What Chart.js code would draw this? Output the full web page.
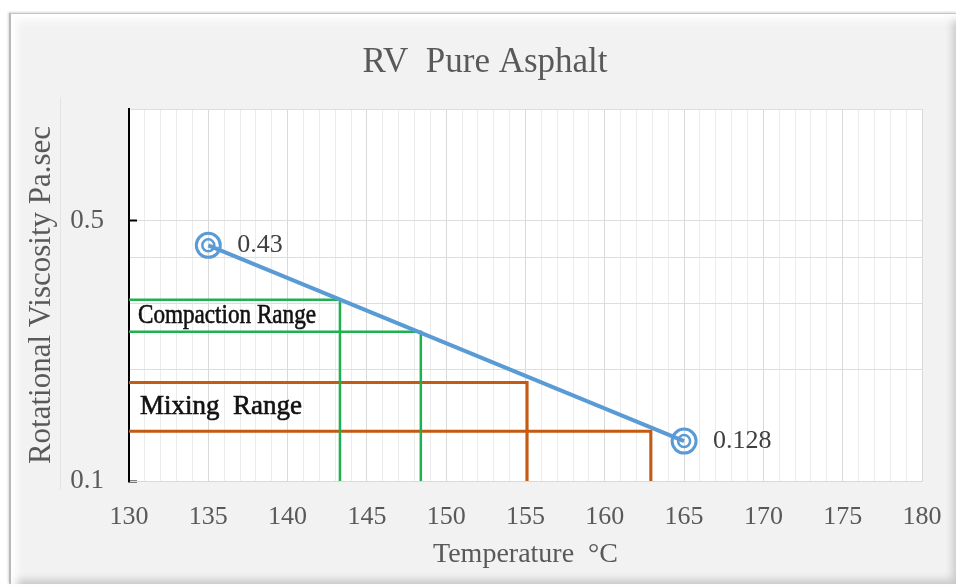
<!DOCTYPE html>
<html>
<head>
<meta charset="utf-8">
<title>RV Pure Asphalt</title>
<script src="https://cdn.jsdelivr.net/npm/chart.js@4.4.1/dist/chart.umd.min.js"></script>
<style>
  html, body { margin: 0; padding: 0; background: #fff; }
  #wrap { position: relative; width: 956px; height: 585px; overflow: hidden; }
  /* bevelled panel behind the chart */
  .panel {
    position: absolute; left: 9px; top: 13px; width: 946px; height: 570px;
    background: #f3f2f2;
    border-left: 2px solid #b9b9b9; border-top: 1px solid #c4c4c4;
    box-shadow: inset 8px 8px 8px -2px #fff, inset -6px -6px 8px -2px rgba(0,0,0,0.18), -1px -1px 2px rgba(0,0,0,0.15);
  }
  .guide { position: absolute; left: 60px; top: 97px; width: 1px; height: 393px; background: #e3e3e3; }
  canvas { position: absolute; left: 0; top: 0; }
</style>
</head>
<body>
<div id="wrap">
  <div class="panel"></div>
  <div class="guide"></div>
  <canvas id="rvChart" width="956" height="585"></canvas>
</div>
<script>
// --- data ---
const temps = [135, 165];            // °C
const viscosity = [0.43, 0.128];     // Pa.sec
const compactionTemps = [143.3, 148.4];
const compactionVisc = [0.307, 0.252];
const mixingTemps = [155.1, 162.9];
const mixingVisc = [0.184, 0.136];

const xMin = 130, xMax = 180, xStep = 1, xLabelStep = 5;
const yMin = 0.1, yMax = 1;
const yTicks = [0.1, 0.2, 0.3, 0.4, 0.5, 1];
const yLabels = [0.1, 0.5];

const SERIF = "'Liberation Serif', 'Times New Roman', serif";
const BLUE = '#5b9bd5';
const GREEN = '#1fb14f';
const ORANGE = '#c55a11';

Chart.defaults.font.family = SERIF;
Chart.defaults.color = '#595959';

// L-shaped range guide lines: from the axis to the curve, then down to the bottom
function rangeLines(ts, vs) {
  return ts.map((t, i) => [{ x: xMin, y: vs[i] }, { x: t, y: vs[i] }, { x: t, y: yMin }]);
}

const mainPts = temps.map((t, i) => ({ x: t, y: viscosity[i] }));

const datasets = [
  {
    data: mainPts, showLine: true, borderColor: BLUE, borderWidth: 4,
    pointRadius: 12, pointBorderWidth: 3, pointBorderColor: BLUE,
    pointBackgroundColor: 'rgba(0,0,0,0)', pointHoverRadius: 12
  },
  {
    data: mainPts, showLine: false, pointRadius: 6, pointBorderWidth: 2.5,
    pointBorderColor: BLUE, pointBackgroundColor: 'rgba(0,0,0,0)'
  }
];
rangeLines(compactionTemps, compactionVisc).forEach(d => datasets.push({
  data: d, showLine: true, borderColor: GREEN, borderWidth: 2.5, pointRadius: 0, tension: 0
}));
rangeLines(mixingTemps, mixingVisc).forEach(d => datasets.push({
  data: d, showLine: true, borderColor: ORANGE, borderWidth: 3, pointRadius: 0, tension: 0
}));

const plotBg = {
  id: 'plotBg',
  beforeDraw(chart) {
    const { ctx, chartArea: a } = chart;
    ctx.save();
    ctx.fillStyle = '#fff';
    ctx.fillRect(a.left, a.top, a.right - a.left, a.bottom - a.top);
    ctx.restore();
  }
};

const annotations = {
  id: 'annotations',
  afterDatasetsDraw(chart) {
    const { ctx, scales: { x, y } } = chart;
    ctx.save();
    ctx.textBaseline = 'middle';
    ctx.textAlign = 'left';

    // value labels next to the markers
    ctx.fillStyle = '#404040';
    ctx.font = '26px ' + SERIF;
    chart.getDatasetMeta(0).data.forEach((p, i) => {
      ctx.fillText(String(viscosity[i]), p.x + 29, p.y);
    });

    // range captions, centred (log-wise) between their two levels
    ctx.fillStyle = '#111';
    ctx.strokeStyle = '#111';
    ctx.lineWidth = 0.6;
    ctx.font = '27px ' + SERIF;
    const left = x.getPixelForValue(xMin);
    const cy = y.getPixelForValue(Math.sqrt(compactionVisc[0] * compactionVisc[1]));
    ctx.fillText('Compaction Range', left + 9, cy, 178);
    ctx.strokeText('Compaction Range', left + 9, cy, 178);
    const my = y.getPixelForValue(Math.sqrt(mixingVisc[0] * mixingVisc[1]));
    ctx.fillText('Mixing  Range', left + 11, my);
    ctx.strokeText('Mixing  Range', left + 11, my);
    ctx.restore();
  }
};

new Chart(document.getElementById('rvChart'), {
  type: 'scatter',
  data: { datasets },
  plugins: [plotBg, annotations],
  options: {
    responsive: false,
    animation: false,
    layout: { padding: { left: 48, right: 34, top: 0, bottom: 0 } },
    plugins: {
      legend: { display: false },
      tooltip: { enabled: false },
      title: {
        display: true,
        text: 'RV  Pure Asphalt',
        color: '#595959',
        font: { size: 35, weight: 'normal', family: SERIF },
        padding: { top: 42, bottom: 25 }
      }
    },
    scales: {
      x: {
        type: 'linear', min: xMin, max: xMax,
        afterFit: s => { s.height = 104; s.paddingLeft = 0; s.paddingRight = 0; },
        afterBuildTicks: s => {
          const t = [];
          for (let v = xMin; v <= xMax; v += xStep) t.push({ value: v });
          s.ticks = t;
        },
        ticks: {
          autoSkip: false, maxRotation: 0, padding: 21,
          font: { size: 26 }, color: '#595959',
          callback: v => (v % xLabelStep === 0 ? String(v) : '')
        },
        grid: {
          drawTicks: false,
          color: c => (c.tick && c.tick.value % xLabelStep === 0 ? '#d9d9d9' : '#ececec')
        },
        border: { color: '#d9d9d9', width: 1 },
        title: {
          display: true, text: 'Temperature  °C', color: '#595959',
          font: { size: 28 }, padding: { top: 0, bottom: 14 }
        }
      },
      y: {
        type: 'logarithmic', min: yMin, max: yMax,
        afterFit: s => { s.width = 81; },
        afterBuildTicks: s => { s.ticks = yTicks.map(v => ({ value: v })); },
        ticks: {
          padding: 33, font: { size: 27 }, color: '#595959',
          callback: v => (yLabels.includes(v) ? String(v) : '')
        },
        grid: {
          color: '#dedede',
          tickLength: -8,
          tickWidth: 2,
          tickColor: c => (c.tick && yLabels.includes(c.tick.value) ? '#000' : 'rgba(0,0,0,0)')
        },
        border: { color: '#000', width: 2 },
        title: {
          display: true, text: 'Rotational Viscosity Pa.sec', color: '#595959',
          font: { size: 31 }, padding: { top: -25, bottom: 0 }
        }
      }
    }
  }
});
</script>
</body>
</html>
